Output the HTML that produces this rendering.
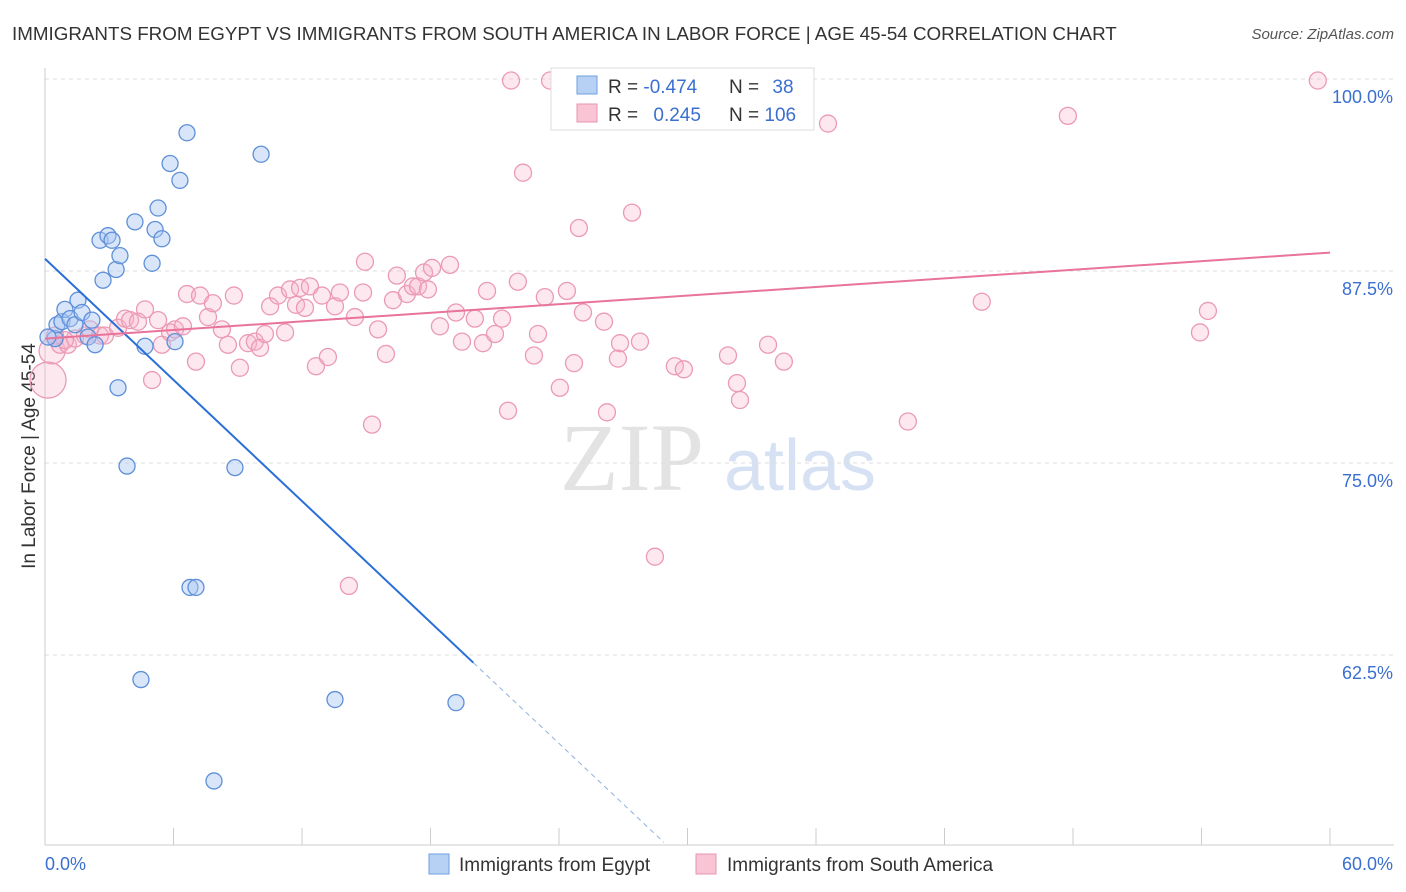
<!DOCTYPE html>
<html><head><meta charset="utf-8">
<style>
body{margin:0;background:#fff;font-family:"Liberation Sans",sans-serif;}
#wrap{position:relative;width:1406px;height:892px;overflow:hidden;}
</style></head>
<body>
<div id="wrap">
<svg id="svg" width="1406" height="892" xmlns="http://www.w3.org/2000/svg">
<text x="12" y="40" font-size="18.8" fill="#333">IMMIGRANTS FROM EGYPT VS IMMIGRANTS FROM SOUTH AMERICA IN LABOR FORCE | AGE 45-54 CORRELATION CHART</text>
<text x="1394" y="39" font-size="15" fill="#555" font-style="italic" text-anchor="end">Source: ZipAtlas.com</text>
<text x="35" y="456" font-size="19" fill="#333" text-anchor="middle" transform="rotate(-90 35 456)">In Labor Force | Age 45-54</text>
<g><text x="632" y="490" font-size="96" fill="#d8d8d8" font-family="Liberation Serif,serif" text-anchor="middle" opacity="0.7">ZIP</text><text x="800" y="490" font-size="72" fill="#c5d6ef" text-anchor="middle" opacity="0.7">atlas</text></g>
<g id="grid"></g><g id="axes"></g><g id="pink"></g><g id="blue"></g><g id="trend"></g>
<g>
<rect x="551" y="68" width="263" height="62" fill="#fff" stroke="#ddd"/>
<rect x="577" y="76" width="20" height="18" fill="#b7d1f5" stroke="#6f9fdf"/>
<rect x="577" y="104" width="20" height="18" fill="#f9c4d4" stroke="#e893b0"/>
<text x="608" y="93" font-size="19" fill="#333">R = <tspan fill="#3a6fd0">-0.474</tspan></text>
<text x="729" y="93" font-size="19" fill="#333">N = <tspan dx="8" fill="#3a6fd0">38</tspan></text>
<text x="608" y="121" font-size="19" fill="#333">R = <tspan dx="10" fill="#3a6fd0">0.245</tspan></text>
<text x="729" y="121" font-size="19" fill="#333">N = <tspan fill="#3a6fd0">106</tspan></text>
</g>
<g>
<rect x="429" y="854" width="20" height="20" fill="#b7d1f5" stroke="#6f9fdf"/>
<text x="459" y="871" font-size="19" fill="#333">Immigrants from Egypt</text>
<rect x="696" y="854" width="20" height="20" fill="#f9c4d4" stroke="#e893b0"/>
<text x="727" y="871" font-size="19" fill="#333">Immigrants from South America</text>
</g>
</svg>
</div>
<script>
const yTicks=[100,87.5,75,62.5];
const yTickLabels=["100.0%","87.5%","75.0%","62.5%"];
const xTicks=[0,6,12,18,24,30,36,42,48,54,60];
const xEndLabels=["0.0%","60.0%"];
const blueX=[0.47,0.56,0.79,0.93,1.17,1.40,1.54,1.73,2.01,2.19,2.34,2.57,2.71,2.94,3.13,3.32,3.50,3.41,3.83,4.20,4.48,4.67,5.00,5.14,5.28,5.46,5.84,6.07,6.30,6.63,6.77,7.05,7.89,8.87,10.09,13.54,19.19,0.14];
const blueY=[83.1,84.0,84.2,85.0,84.4,84.0,85.6,84.8,83.2,84.3,82.7,89.5,86.9,89.8,89.5,87.6,88.5,79.9,74.8,90.7,60.9,82.6,88.0,90.2,91.6,89.6,94.5,82.9,93.4,96.5,66.9,66.9,54.3,74.7,95.1,59.6,59.4,83.2];
const pinkX=[0.14,0.33,0.70,1.07,1.40,1.87,2.10,2.57,2.80,3.41,3.74,3.97,4.34,4.67,5.00,5.28,5.46,5.84,6.07,6.44,6.63,7.05,7.24,7.61,7.84,8.26,8.54,8.82,9.10,9.48,9.80,10.04,10.27,10.51,10.88,11.21,11.44,11.72,11.91,12.14,12.37,12.65,12.93,13.21,13.54,13.77,14.47,14.85,14.94,15.27,15.55,15.92,16.25,16.43,16.90,17.18,17.42,17.70,17.88,18.07,18.44,18.91,19.19,19.47,20.07,20.45,20.64,21.01,21.34,21.62,21.76,22.08,22.32,22.83,23.02,23.34,23.58,24.04,24.37,24.70,24.93,25.12,26.24,26.10,26.75,26.85,27.41,27.78,28.48,29.41,29.83,31.89,32.31,32.45,33.76,34.50,35.25,36.56,40.29,43.74,47.76,53.93,54.30,59.43,14.19,0.93,0.47];
const pinkY=[80.4,82.3,82.7,82.7,83.1,83.3,83.7,83.3,83.3,83.8,84.4,84.3,84.2,85.0,80.4,84.3,82.7,83.5,83.7,83.9,86.0,81.6,85.9,84.5,85.4,83.7,82.7,85.9,81.2,82.8,82.9,82.5,83.4,85.2,85.9,83.5,86.3,85.3,86.4,85.1,86.5,81.3,85.9,81.9,85.2,86.1,84.5,86.1,88.1,77.5,83.7,82.1,85.6,87.2,86.0,86.5,86.5,87.4,86.3,87.7,83.9,87.9,84.8,82.9,84.4,82.8,86.2,83.4,84.4,78.4,99.9,86.8,93.9,82.0,83.4,85.8,99.9,79.9,86.2,81.5,90.3,84.8,78.3,84.2,81.8,82.8,91.3,82.9,68.9,81.3,81.1,82.0,80.2,79.1,82.7,81.6,99.9,97.1,77.7,85.5,97.6,83.5,84.9,99.9,67.0,83.0,83.3];
const blueTrend=[[0,88.3],[20.0,62.0],[28.9,50.3]];
const pinkTrend=[[0,83.1],[60,88.7]];

const NS="http://www.w3.org/2000/svg";
const X=v=>45+v/60*1285;
const Y=v=>79+(100-v)*15.36;
function mk(tag,attrs,parent){const e=document.createElementNS(NS,tag);for(const k in attrs)e.setAttribute(k,attrs[k]);document.getElementById(parent).appendChild(e);return e;}
yTicks.forEach((t,i)=>{
 const l=mk('line',{x1:45,x2:1394,y1:Y(t),y2:Y(t),stroke:'#ddd','stroke-dasharray':'4 4'},'grid');
 
 
 const tx=mk('text',{x:1393,y:Y(t)+24,'font-size':18,fill:'#3a6fd0','text-anchor':'end'},'grid');
 tx.textContent=yTickLabels[i];
 
 
});
const ax=mk('line',{x1:45,x2:45,y1:68,y2:845,stroke:'#ccc'},'axes');


const bx=mk('line',{x1:45,x2:1394,y1:845,y2:845,stroke:'#ccc'},'axes');


xTicks.forEach(t=>{
 const l=mk('line',{x1:X(t),x2:X(t),y1:828,y2:845,stroke:'#ccc'},'axes');
 
 
});
[[0,'start'],[60,'end']].forEach((p,i)=>{
 const tx=mk('text',{x:i?1393:45,y:870,'font-size':18,fill:'#3a6fd0','text-anchor':p[1]},'axes');
 tx.textContent=xEndLabels[i];
 
 
});
pinkX.forEach((x,i)=>{
 const r=i===0?18:(i===1?13:8.5);
 const c=mk('circle',{cx:X(x),cy:Y(pinkY[i]),r:r,fill:'rgba(248,180,202,0.3)',stroke:'#eb9ab6','stroke-width':1.3},'pink');
 
 
});
blueX.forEach((x,i)=>{
 const c=mk('circle',{cx:X(x),cy:Y(blueY[i]),r:8,fill:'rgba(170,200,245,0.45)',stroke:'#5e8fd8','stroke-width':1.3},'blue');
 
 
});
const b1=mk('line',{x1:X(blueTrend[0][0]),y1:Y(blueTrend[0][1]),x2:X(blueTrend[1][0]),y2:Y(blueTrend[1][1]),stroke:'#2a6fd8','stroke-width':2},'trend');


const b2=mk('line',{x1:X(blueTrend[1][0]),y1:Y(blueTrend[1][1]),x2:X(blueTrend[2][0]),y2:Y(blueTrend[2][1]),stroke:'#8fb0e0','stroke-width':1,'stroke-dasharray':'5 4'},'trend');


const p1=mk('line',{x1:X(pinkTrend[0][0]),y1:Y(pinkTrend[0][1]),x2:X(pinkTrend[1][0]),y2:Y(pinkTrend[1][1]),stroke:'#e8739b','stroke-width':2},'trend');


</script>
</body></html>
